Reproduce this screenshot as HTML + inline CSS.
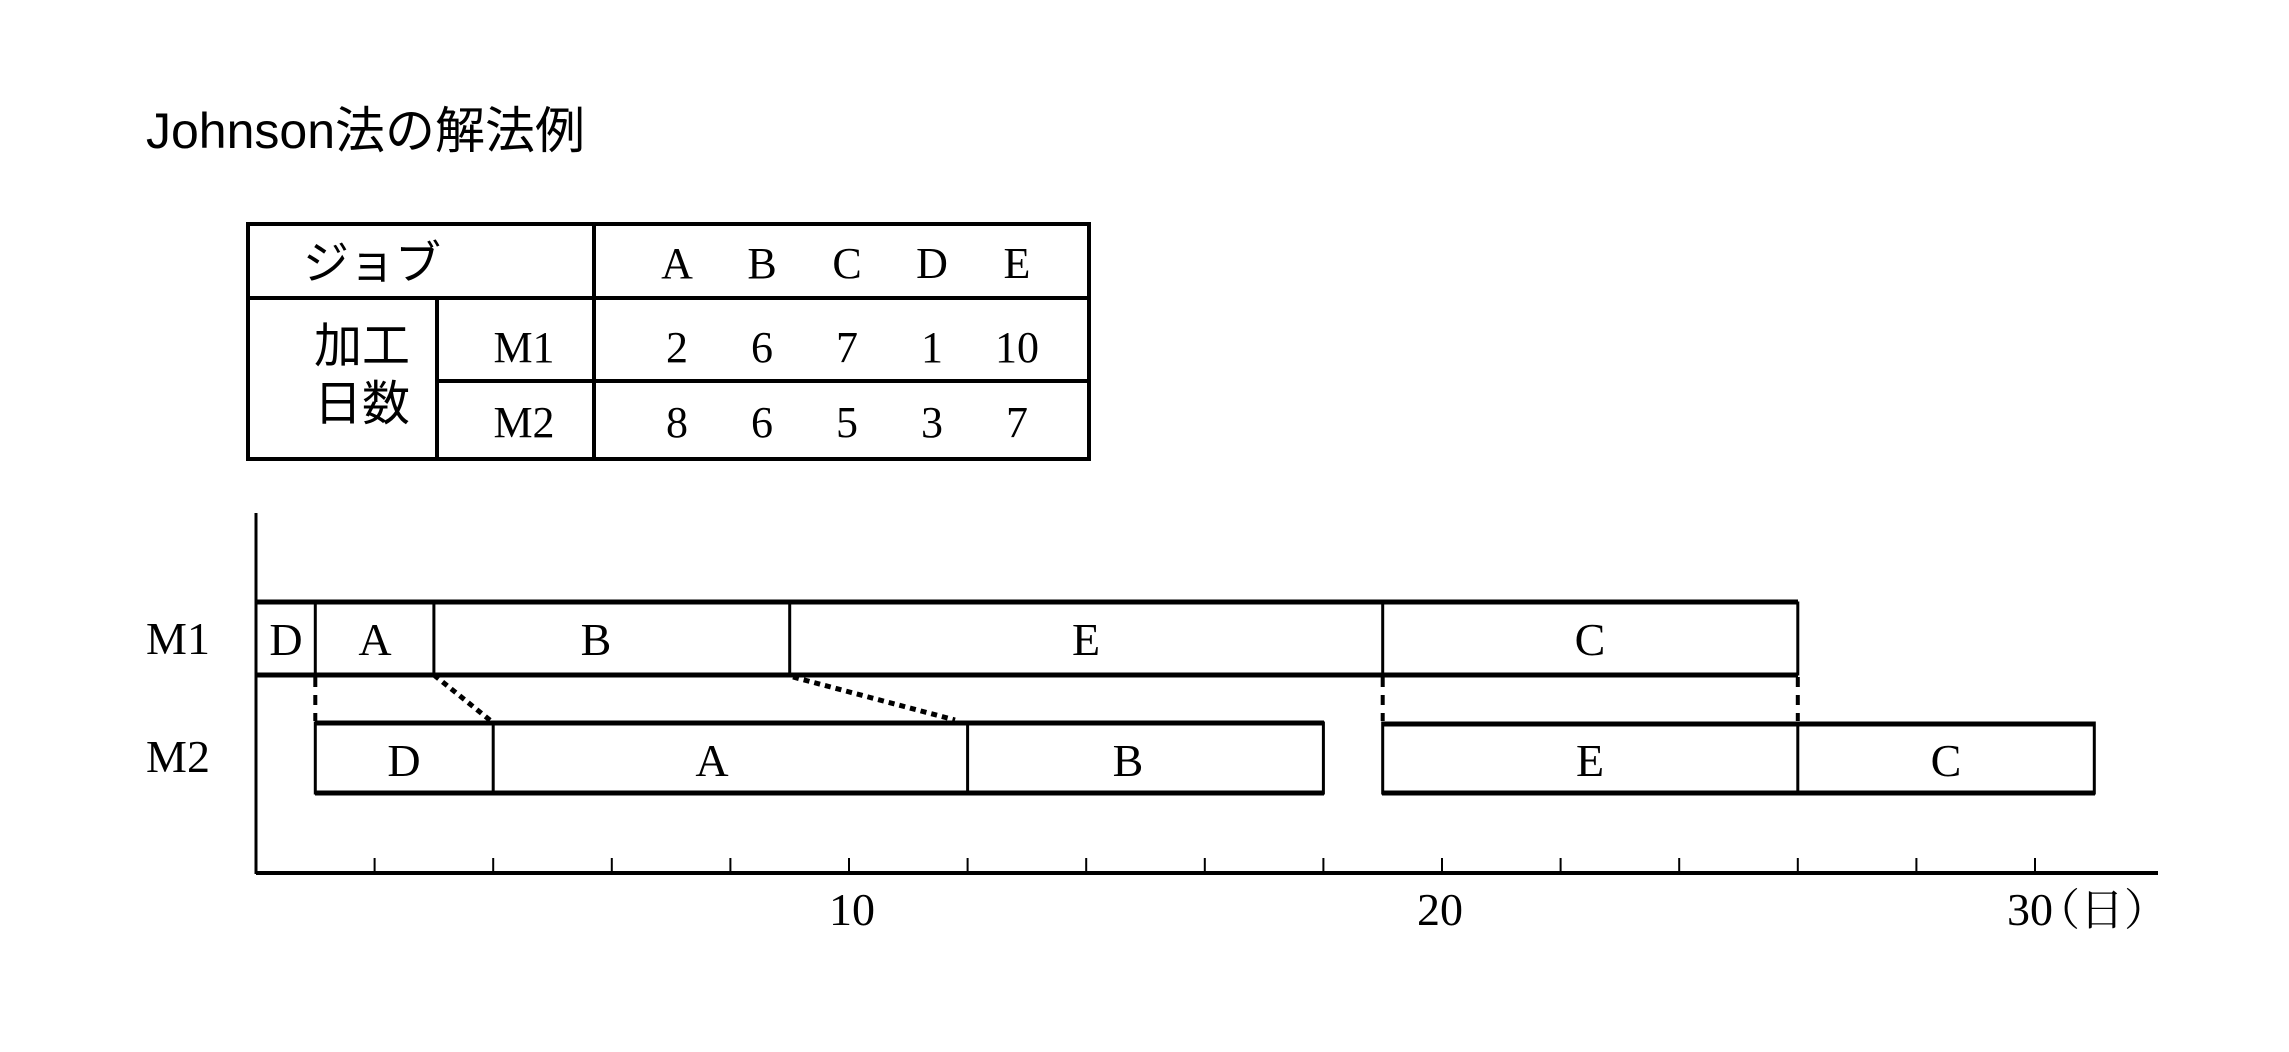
<!DOCTYPE html>
<html><head><meta charset="utf-8"><style>
body{margin:0;background:#fff;width:2289px;height:1047px;overflow:hidden}
</style></head><body>
<svg width="2289" height="1047" xmlns="http://www.w3.org/2000/svg">
<text x="146" y="148" font-family="Liberation Sans, Noto Sans CJK JP, sans-serif" font-size="50">Johnson法の解法例</text>
<g stroke="#000" fill="none">
<rect x="248" y="224" width="841" height="235" stroke-width="4"/>
<line x1="248" y1="298" x2="1089" y2="298" stroke-width="4"/>
<line x1="437" y1="381" x2="1089" y2="381" stroke-width="4"/>
<line x1="437" y1="298" x2="437" y2="459" stroke-width="4"/>
<line x1="594" y1="224" x2="594" y2="459" stroke-width="4"/>
</g>
<g font-family="Liberation Serif, Noto Serif CJK SC, serif" font-size="44" text-anchor="middle">
<text x="372" y="279" font-family="Noto Sans CJK JP, sans-serif" font-size="46">ジョブ</text>
<text x="677" y="278">A</text><text x="762" y="278">B</text><text x="847" y="278">C</text><text x="932" y="278">D</text><text x="1017" y="278">E</text>
<text x="362" y="362" font-family="Noto Sans CJK JP, sans-serif" font-size="48">加工</text>
<text x="362" y="420" font-family="Noto Sans CJK JP, sans-serif" font-size="48">日数</text>
<text x="524" y="362">M1</text><text x="524" y="437">M2</text>
<text x="677" y="362">2</text><text x="762" y="362">6</text><text x="847" y="362">7</text><text x="932" y="362">1</text><text x="1017" y="362">10</text>
<text x="677" y="437">8</text><text x="762" y="437">6</text><text x="847" y="437">5</text><text x="932" y="437">3</text><text x="1017" y="437">7</text>
</g>
<g stroke="#000">
<line x1="256" y1="513" x2="256" y2="874" stroke-width="3"/>
<line x1="256" y1="873" x2="2158" y2="873" stroke-width="4"/>
<g stroke-width="2">
<line x1="374.6" y1="858" x2="374.6" y2="872"/><line x1="493.2" y1="858" x2="493.2" y2="872"/><line x1="611.8" y1="858" x2="611.8" y2="872"/><line x1="730.4" y1="858" x2="730.4" y2="872"/><line x1="849" y1="858" x2="849" y2="872"/><line x1="967.6" y1="858" x2="967.6" y2="872"/><line x1="1086.2" y1="858" x2="1086.2" y2="872"/><line x1="1204.8" y1="858" x2="1204.8" y2="872"/><line x1="1323.4" y1="858" x2="1323.4" y2="872"/><line x1="1442" y1="858" x2="1442" y2="872"/><line x1="1560.6" y1="858" x2="1560.6" y2="872"/><line x1="1679.2" y1="858" x2="1679.2" y2="872"/><line x1="1797.8" y1="858" x2="1797.8" y2="872"/><line x1="1916.4" y1="858" x2="1916.4" y2="872"/><line x1="2035" y1="858" x2="2035" y2="872"/>
</g>
<g fill="none" stroke-width="3">
<rect x="256" y="603" width="1541.8" height="71"/>
<rect x="315.3" y="723" width="1008.1" height="70"/>
<rect x="1382.7" y="723" width="711.6" height="70"/>
</g>
<g stroke-width="5">
<line x1="256" y1="602" x2="1798" y2="602"/><line x1="256" y1="675" x2="1798" y2="675"/>
<line x1="315" y1="723" x2="1324" y2="723"/><line x1="315" y1="793" x2="1324" y2="793"/>
<line x1="1382" y1="724" x2="2095" y2="724"/><line x1="1382" y1="793" x2="2095" y2="793"/>
</g>
<g stroke-width="3">
<line x1="315.3" y1="603" x2="315.3" y2="674"/><line x1="433.9" y1="603" x2="433.9" y2="674"/><line x1="789.7" y1="603" x2="789.7" y2="674"/><line x1="1382.7" y1="603" x2="1382.7" y2="674"/>
<line x1="493.2" y1="723" x2="493.2" y2="793"/><line x1="967.6" y1="723" x2="967.6" y2="793"/><line x1="1797.8" y1="723" x2="1797.8" y2="793"/>
</g>
<g stroke-width="4" stroke-dasharray="10,8">
<line x1="315.3" y1="677" x2="315.3" y2="721"/><line x1="1382.7" y1="677" x2="1382.7" y2="721"/><line x1="1797.8" y1="677" x2="1797.8" y2="721"/>
</g>
<g stroke-width="5" stroke-dasharray="6,5">
<line x1="434" y1="675" x2="491" y2="721"/><line x1="793" y1="677" x2="955" y2="720"/>
</g>
</g>
<g font-family="Liberation Serif, Noto Serif CJK JP, serif" font-size="46" text-anchor="middle">
<text x="178" y="654">M1</text><text x="178" y="772">M2</text>
<text x="286" y="655">D</text><text x="375" y="655">A</text><text x="596" y="655">B</text><text x="1086" y="655">E</text><text x="1590" y="655">C</text>
<text x="404" y="776">D</text><text x="712" y="776">A</text><text x="1128" y="776">B</text><text x="1590" y="776">E</text><text x="1946" y="776">C</text>
<text x="852" y="925">10</text><text x="1440" y="925">20</text><text x="2030" y="925">30</text>
<text x="2102" y="925" font-family="Noto Serif CJK SC, serif" font-size="44">（日）</text>
</g>
</svg>
</body></html>
